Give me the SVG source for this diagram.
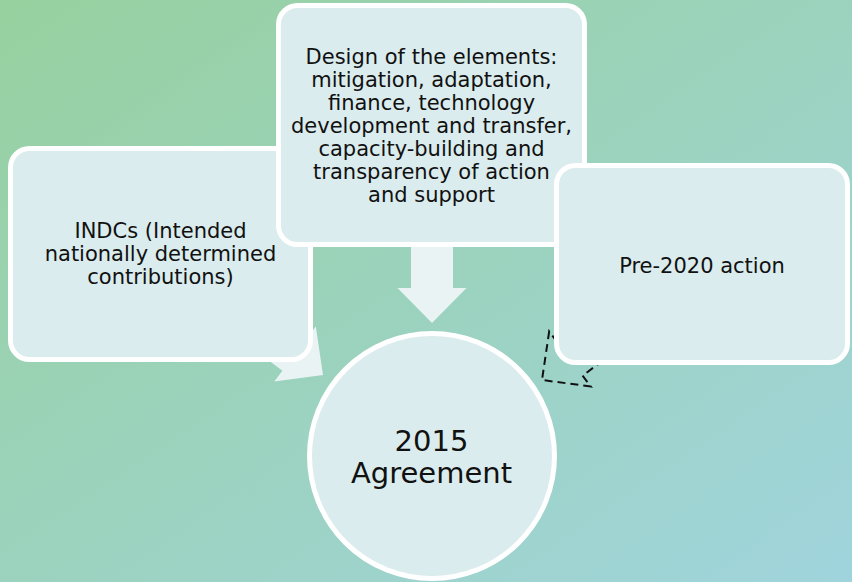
<svg xmlns="http://www.w3.org/2000/svg" width="852" height="582" viewBox="0 0 852 582">
  <defs>
    <linearGradient id="bg" x1="0" y1="0" x2="1" y2="1">
      <stop offset="0" stop-color="#97d19f"/>
      <stop offset="1" stop-color="#a0d4dd"/>
    </linearGradient>
    <!-- block arrow pointing along +y, tip at the origin -->
    <path id="blockArrow" d="M -21 -110 L 21 -110 L 21 -35 L 34.5 -35 L 0 0 L -34.5 -35 L -21 -35 Z"/>
  </defs>
  <style>
    .node { fill: #daeced; stroke: #ffffff; stroke-width: 5; }
    .label { font-family: "DejaVu Sans", Verdana, sans-serif; font-size: 21px; fill: #111111; text-anchor: middle; }
    .big { font-size: 29px; }
    .solid { fill: #e9f3f4; stroke: none; }
    .dashed { fill: none; stroke: #111111; stroke-width: 2; stroke-dasharray: 8 5; }
  </style>

  <rect width="852" height="582" fill="url(#bg)"/>

  <g id="connectors">
    <use href="#blockArrow" class="solid" transform="translate(432,323)"/>
    <use href="#blockArrow" class="solid" transform="translate(323,375) rotate(-53)"/>
    <use href="#blockArrow" class="dashed" transform="translate(542,380) rotate(53)"/>
  </g>

  <g id="indcs">
    <rect class="node" x="10.5" y="148.5" width="300" height="211" rx="19"/>
    <text class="label" x="160.5" y="238">INDCs (Intended</text>
    <text class="label" x="160.5" y="261">nationally determined</text>
    <text class="label" x="160.5" y="284">contributions)</text>
  </g>

  <g id="design">
    <rect class="node" x="278.5" y="5.5" width="306" height="239" rx="19"/>
    <text class="label" x="431.5" y="64">Design of the elements:</text>
    <text class="label" x="431.5" y="87">mitigation, adaptation,</text>
    <text class="label" x="431.5" y="110">finance, technology</text>
    <text class="label" x="431.5" y="133">development and transfer,</text>
    <text class="label" x="431.5" y="156">capacity-building and</text>
    <text class="label" x="431.5" y="179">transparency of action</text>
    <text class="label" x="431.5" y="202">and support</text>
  </g>

  <g id="pre2020">
    <rect class="node" x="556.5" y="165.5" width="291" height="197" rx="19"/>
    <text class="label" x="702" y="273">Pre-2020 action</text>
  </g>

  <g id="agreement">
    <circle class="node" cx="432" cy="456" r="122.5"/>
    <text class="label big" x="431.5" y="451">2015</text>
    <text class="label big" x="431.5" y="483">Agreement</text>
  </g>
</svg>
